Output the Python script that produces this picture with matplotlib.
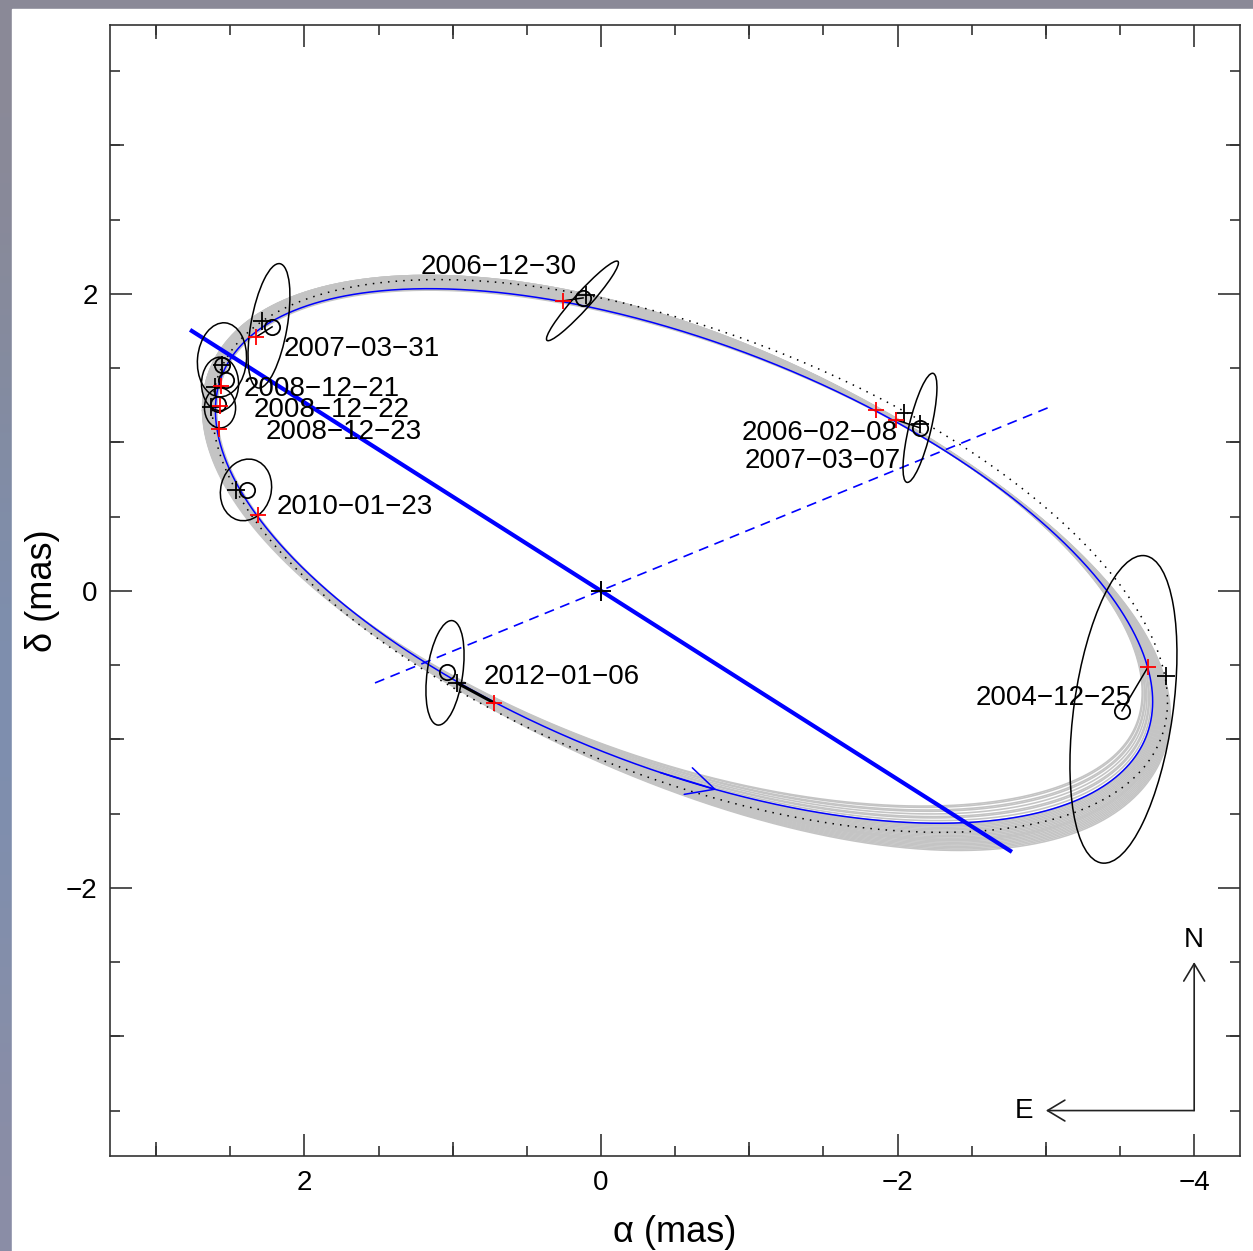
import numpy as np
import matplotlib
matplotlib.use('Agg')
import matplotlib.pyplot as plt
from matplotlib.patches import Ellipse, Rectangle
from matplotlib.ticker import MultipleLocator, NullFormatter

plt.rcParams['font.family'] = ['Liberation Sans', 'DejaVu Sans']

# ---------------- data ----------------
epochs = ['2004−12−25', '2006−02−08', '2006−12−30', '2007−03−07', '2007−03−31',
          '2008−12−21', '2008−12−22', '2008−12−23', '2010−01−23', '2012−01−06']
model_ra = [-3.689, -1.854, 0.256, -1.989, 2.326, 2.562, 2.569, 2.576, 2.313, 0.722]
model_dec = [-0.512, 1.219, 1.953, 1.152, 1.710, 1.380, 1.246, 1.091, 0.512, -0.754]
label_ra = [-3.055, -1.477, 0.688, -1.497, 1.612, 1.881, 1.814, 1.733, 1.659, 0.263]
label_dec = [-0.721, 1.064, 2.182, 0.875, 1.630, 1.360, 1.219, 1.071, 0.566, -0.579]

plus_ra = [-3.810, -2.043, -2.151, 0.101, 2.286, 2.556, 2.603, 2.630, 2.461, 0.971]
plus_dec = [-0.572, 1.199, 1.125, 1.993, 1.818, 1.522, 1.374, 1.239, 0.680, -0.620]
circ_ra = [-3.513, -2.151, 0.121, 2.218, 2.556, 2.529, 2.583, 2.387, 1.038]
circ_dec = [-0.808, 1.098, 1.973, 1.778, 1.522, 1.421, 1.259, 0.680, -0.545]

ell_ra = [-3.523, -2.151, 0.125, 2.239, 2.556, 2.569, 2.569, 2.394, 1.052]
ell_dec = [-0.798, 1.098, 1.953, 1.785, 1.556, 1.394, 1.232, 0.680, -0.552]
ell_major = [2.09, 0.755, 0.715, 0.85, 0.50, 0.36, 0.27, 0.42, 0.71]
ell_minor = [0.667, 0.15, 0.11, 0.245, 0.33, 0.25, 0.21, 0.34, 0.24]
ell_angle = [98, 103.5, 132, 100, 95, 90, 90, 105, 98]

link_ra0 = [-3.689, 0.256, -1.989, 2.326]
link_dec0 = [-0.512, 1.953, 1.152, 1.710]
link_ra1 = [-3.513, 0.121, -2.151, 2.218]
link_dec1 = [-0.808, 1.973, 1.098, 1.778]
link12_ra = [0.722, 0.971]
link12_dec = [-0.754, -0.620]

# apparent orbit (best fit): centre and parametric coefficients (mas)
orb_cx, orb_cy = -0.56, 0.235
orb_P, orb_Q, orb_R, orb_S = 3.16, 0.0, 0.98, 1.51
# dotted alternative orbit
dot_cx, dot_cy = -0.60, 0.235
dot_P, dot_Q, dot_R, dot_S = 3.22, -0.04, 1.00, 1.57
# gray family of orbits: offsets (mas) near the observed part (A) and the
# unconstrained south-west part (B)
gray_A = [0.00, 0.09, 0.03, 0.06, 0.04, 0.09, 0.01, 0.05, 0.08, 0.03, -0.01, 0.07,
          0.02, 0.08, 0.05, 0.00, 0.07, 0.03, 0.06, 0.09, 0.01, 0.06, 0.02, 0.04,
          0.08, 0.03, 0.05, 0.07, 0.00, 0.06]
gray_B = [0.18, -0.10, 0.05, 0.12, -0.04, 0.20, 0.00, 0.15, -0.12, 0.08, 0.02, 0.16,
          -0.07, 0.10, 0.04, 0.19, -0.02, 0.13, 0.06, -0.09, 0.11, 0.17, -0.05, 0.09,
          0.01, 0.14, -0.13, 0.07, 0.03, 0.12]

node_ra = [2.771, -2.771]
node_dec = [1.758, -1.758]
perp_ra = [1.524, -3.028]
perp_dec = [-0.620, 1.239]

xticks_major = [2, 0, -2, -4]
xticks_mid = [3, 1, -1, -3]
yticks_major = [-2, 0, 2]
yticks_mid = [-3, -1, 1, 3]

# ---------------- figure ----------------
W, H = 1253, 1251
fig = plt.figure(figsize=(W / 100, H / 100), dpi=100)

# background (sky-like) and white panel
bg = fig.add_axes([0, 0, 1, 1], zorder=-10)
grad = np.array([[[0.545, 0.537, 0.592]],
                 [[0.520, 0.545, 0.620]],
                 [[0.490, 0.560, 0.690]],
                 [[0.500, 0.560, 0.680]],
                 [[0.545, 0.555, 0.650]]])
bg.imshow(grad, aspect='auto', extent=[0, 1, 0, 1], interpolation='bicubic')
bg.set_xlim(0, 1); bg.set_ylim(0, 1)
bg.axis('off')
bg.add_patch(Rectangle((12 / W, 0), 1 - 12 / W, (H - 9) / H, color='white',
                       transform=bg.transAxes, zorder=2))

ax = fig.add_axes([110 / W, (H - 1156) / H, 1130 / W, 1131 / H])
ax.set_facecolor('white')
ax.set_xlim(3.311, -4.309)
ax.set_ylim(-3.806, 3.811)

t = np.linspace(0, 2 * np.pi, 1500)


def orbit(t, cx, cy, P, Q, R, S):
    return cx + P * np.cos(t) + Q * np.sin(t), cy + R * np.cos(t) + S * np.sin(t)


bx, by = orbit(t, orb_cx, orb_cy, orb_P, orb_Q, orb_R, orb_S)
tx = -orb_P * np.sin(t) + orb_Q * np.cos(t)
ty = -orb_R * np.sin(t) + orb_S * np.cos(t)
nn = np.hypot(tx, ty)
nx, ny = ty / nn, -tx / nn


def wrap(d):
    return (d + np.pi) % (2 * np.pi) - np.pi


w1 = np.exp(-(np.abs(wrap(t - 0.6)) / 1.3) ** 4)
d2 = wrap(t + 2.5)
w2 = np.exp(-(d2 / np.where(d2 > 0, 1.1, 0.85)) ** 2)

for a, b in zip(gray_A, gray_B):
    off = a * w1 + b * w2
    ax.plot(bx + off * nx, by + off * ny, color='#c4c4c4', lw=1.15, zorder=1)

dx, dy = orbit(t, dot_cx, dot_cy, dot_P, dot_Q, dot_R, dot_S)
ax.plot(dx, dy, color='black', lw=1.1, ls=(0, (1, 4)), zorder=2)

ax.plot(bx, by, color='#0000ff', lw=1.1, zorder=3)

# direction arrow on orbit
ta, tb = -1.52, -1.64
xa, ya = orbit(np.array([ta, tb]), orb_cx, orb_cy, orb_P, orb_Q, orb_R, orb_S)
ax.annotate('', xy=(xa[1], ya[1]), xytext=(xa[0], ya[0]),
            arrowprops=dict(arrowstyle='->,head_length=0.8,head_width=0.4',
                            color='#0000ff', lw=1.1, mutation_scale=25,
                            shrinkA=0, shrinkB=0), zorder=4)

ax.plot(node_ra, node_dec, color='#0000ff', lw=3.0, zorder=5, solid_capstyle='butt')
ax.plot(perp_ra, perp_dec, color='#0000ff', lw=1.2, ls=(0, (6, 4)), zorder=5)

for xr, yr, wm, hm, an in zip(ell_ra, ell_dec, ell_major, ell_minor, ell_angle):
    ax.add_patch(Ellipse((xr, yr), wm, hm, angle=an, fill=False, ec='black', lw=1.1, zorder=6))

for x0, y0, x1, y1 in zip(link_ra0, link_dec0, link_ra1, link_dec1):
    ax.plot([x0, x1], [y0, y1], color='black', lw=1.1, zorder=6)
ax.plot(link12_ra, link12_dec, color='black', lw=2.2, zorder=6)

ax.plot(circ_ra, circ_dec, 'o', ms=11, mfc='none', mec='black', mew=1.3, zorder=7)
ax.plot(plus_ra, plus_dec, '+', ms=13, color='black', mew=1.3, zorder=7)
ax.plot(model_ra, model_dec, '+', ms=12, color='red', mew=1.3, zorder=8)
ax.plot([0], [0], '+', ms=15, color='black', mew=1.4, zorder=8)

for s, xl, yl in zip(epochs, label_ra, label_dec):
    ax.text(xl, yl, s, fontsize=20, ha='center', va='center', zorder=9)

# compass
ax.annotate('', xy=(-4.0, -2.5), xytext=(-4.0, -3.5),
            arrowprops=dict(arrowstyle='->,head_length=0.5,head_width=0.3',
                            color='#222222', lw=1.2, mutation_scale=25,
                            shrinkA=0, shrinkB=0))
ax.annotate('', xy=(-3.0, -3.5), xytext=(-4.0, -3.5),
            arrowprops=dict(arrowstyle='->,head_length=0.5,head_width=0.3',
                            color='#222222', lw=1.2, mutation_scale=25,
                            shrinkA=0, shrinkB=0))
ax.text(-4.0, -2.35, 'N', fontsize=20, ha='center', va='center')
ax.text(-2.852, -3.5, 'E', fontsize=20, ha='center', va='center')

# ticks and labels
for sp in ax.spines.values():
    sp.set_color('#333333')
    sp.set_linewidth(1.2)
ax.set_xticks(xticks_major)
ax.set_xticklabels(['2', '0', '−2', '−4'])
ax.set_yticks(yticks_major)
ax.set_yticklabels(['−2', '0', '2'])
ax.xaxis.set_minor_locator(MultipleLocator(0.5))
ax.yaxis.set_minor_locator(MultipleLocator(0.5))
ax.tick_params(which='major', direction='in', length=16, width=1.2, color='#333333',
               top=True, right=True, labelsize=20, pad=10)
ax.tick_params(which='minor', direction='in', length=7, width=1.2, color='#333333',
               top=True, right=True)
ax.tick_params(axis='y', which='major', pad=9)

for loc in ['bottom', 'top']:
    sec = ax.secondary_xaxis(loc)
    sec.set_xticks(xticks_mid)
    sec.xaxis.set_major_formatter(NullFormatter())
    sec.tick_params(direction='in', length=10, width=1.2, color='#333333')
    for sp in sec.spines.values():
        sp.set_visible(False)
for loc in ['left', 'right']:
    sec = ax.secondary_yaxis(loc)
    sec.set_yticks(yticks_mid)
    sec.yaxis.set_major_formatter(NullFormatter())
    sec.tick_params(direction='in', length=10, width=1.2, color='#333333')
    for sp in sec.spines.values():
        sp.set_visible(False)

ax.set_xlabel('α (mas)', fontsize=26, labelpad=14)
ax.set_ylabel('δ (mas)', fontsize=26, labelpad=4)

fig.savefig('out.png', dpi=100)
